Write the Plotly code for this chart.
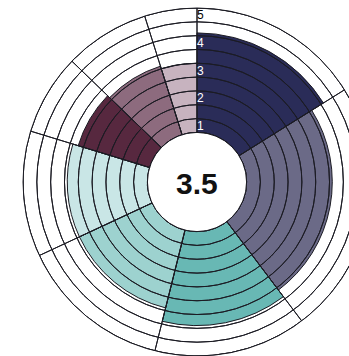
import plotly.graph_objects as go

# --- data ---
categories = ["A", "B", "C", "D", "E", "F", "G", "H"]
start_deg = [0, 58, 143, 194, 245, 287, 314, 342.5]
end_deg = [58, 143, 194, 245, 287, 314, 342.5, 360]
scores = [4.1, 3.6, 3.9, 3.4, 3.4, 3.2, 3.1, 3.0]
colors = ["#2a2c58", "#6b6a87", "#68b8b4", "#9dd2cf", "#c9e6e6",
          "#57283f", "#8d6b7e", "#c7b3bf"]
tick_values = [1, 2, 3, 4, 5]
tick_labels = ["1", "2", "3", "4", "5"]
tick_label_colors = ["white", "white", "white", "white", "black"]
ring_starts = [0.5, 1.0, 1.5, 2.0, 2.5, 3.0, 3.5, 4.0, 4.5]
ring_step = 0.5
overall = "3.5"

r_min, r_max = 0.5, 5.0
line_col = "#1c1c24"

centers = [(s + e) / 2 for s, e in zip(start_deg, end_deg)]
widths = [e - s for s, e in zip(start_deg, end_deg)]

fig = go.Figure()
# coloured score sectors
fig.add_trace(go.Barpolar(
    theta=centers,
    width=widths,
    r=[v - r_min for v in scores],
    base=r_min,
    marker=dict(color=colors, line=dict(color=line_col, width=1)),
    hoverinfo="skip",
))
# concentric rings drawn over the sectors
fig.add_trace(go.Barpolar(
    theta=[180] * len(ring_starts),
    width=[360] * len(ring_starts),
    r=[ring_step] * len(ring_starts),
    base=ring_starts,
    marker=dict(color="rgba(0,0,0,0)", line=dict(color=line_col, width=1)),
    hoverinfo="skip",
))
# sector dividers drawn over everything
fig.add_trace(go.Barpolar(
    theta=centers,
    width=widths,
    r=[r_max - r_min] * len(centers),
    base=r_min,
    marker=dict(color="rgba(0,0,0,0)", line=dict(color=line_col, width=1)),
    hoverinfo="skip",
))
# radial scale labels
fig.add_trace(go.Scatterpolar(
    r=[v - 0.3 for v in tick_values],
    theta=[0] * len(tick_values),
    mode="text",
    text=tick_labels,
    textposition="middle right",
    textfont=dict(family="Liberation Sans, Arial, sans-serif", size=12,
                  color=tick_label_colors),
    hoverinfo="skip",
))

W, H = 374, 356
cx, cy, R = 197, 184, 176
fig.update_layout(
    width=W, height=H, autosize=False,
    margin=dict(l=0, r=0, t=0, b=0),
    paper_bgcolor="white",
    showlegend=False,
    polar=dict(
        domain=dict(x=[(cx - R) / W, min(1, (cx + R) / W)],
                    y=[max(0, (H - cy - R) / H), min(1, (H - cy + R) / H)]),
        hole=0.285,
        bgcolor="white",
        barmode="overlay",
        radialaxis=dict(range=[r_min, r_max], showgrid=False,
                        showticklabels=False, ticks="", showline=False),
        angularaxis=dict(rotation=90, direction="clockwise",
                         showgrid=False, showticklabels=False, ticks="",
                         showline=True, linecolor=line_col, linewidth=1),
    ),
    annotations=[dict(
        x=cx / W, y=(H - cy) / H, xref="paper", yref="paper",
        text="<b>" + overall + "</b>", showarrow=False,
        font=dict(family="Liberation Sans, Arial, sans-serif", size=30,
                  color="#111111"),
        xanchor="center", yanchor="middle",
    )],
)

fig.write_html("out.html")
